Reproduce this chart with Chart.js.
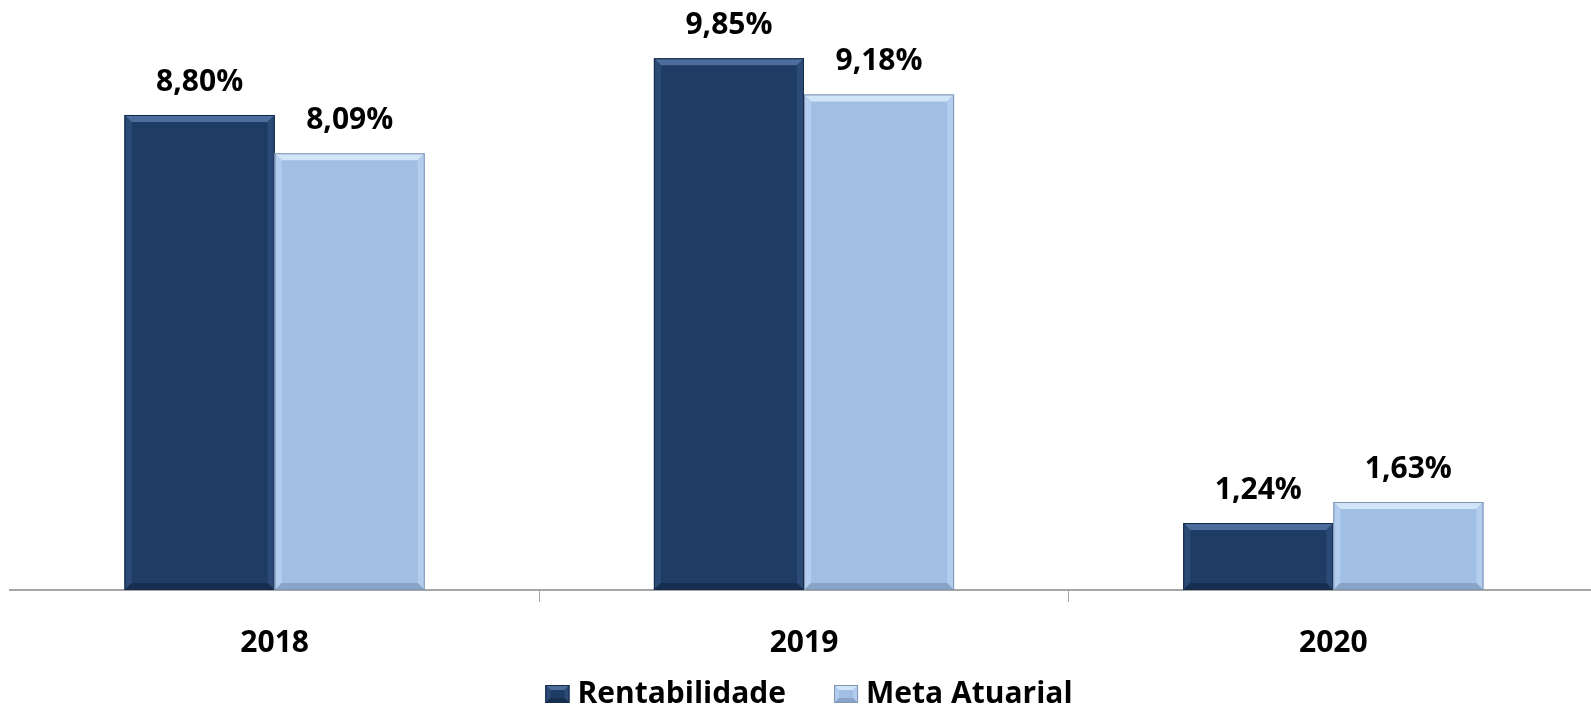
<!DOCTYPE html>
<html lang="pt">
<head>
  <meta charset="UTF-8" />
  <title>Rentabilidade x Meta Atuarial</title>
  <script src="https://cdn.jsdelivr.net/npm/chart.js"></script>
  <style>
    html, body {
      margin: 0;
      padding: 0;
      background: #ffffff;
      overflow: hidden;
    }
    .wrap {
      width: 1598px;
      height: 708px;
      position: relative;
    }
  </style>
</head>
<body>
  <div class="wrap">
    <canvas id="retChart"></canvas>
  </div>

  <script>
    // data
    const years = ['2018', '2019', '2020'];
    const rentabilidade = [8.80, 9.85, 1.24];
    const metaAtuarial = [8.09, 9.18, 1.63];

    const FONT = "'Open Sans', 'Noto Sans', sans-serif";

    const palette = {
      dark:  { fill: '#1f3c64', top: '#4d6e9c', side: '#2b4a76', bottom: '#162e4f', edge: '#152a48' },
      light: { fill: '#a1bee3', top: '#d2e4f8', side: '#b3cdef', bottom: '#88a4c8', edge: '#8096b3' }
    };

    // draws one bevelled rectangle
    function bevelRect(c, l, t, r, b, col, bv) {
      bv = Math.min(bv, (b - t) / 2, (r - l) / 2);
      c.fillStyle = col.fill;
      c.fillRect(l, t, r - l, b - t);
      // top
      c.fillStyle = col.top;
      c.beginPath();
      c.moveTo(l, t); c.lineTo(r, t); c.lineTo(r - bv, t + bv); c.lineTo(l + bv, t + bv);
      c.closePath(); c.fill();
      // left + right
      c.fillStyle = col.side;
      c.beginPath();
      c.moveTo(l, t); c.lineTo(l + bv, t + bv); c.lineTo(l + bv, b - bv); c.lineTo(l, b);
      c.closePath(); c.fill();
      c.beginPath();
      c.moveTo(r, t); c.lineTo(r - bv, t + bv); c.lineTo(r - bv, b - bv); c.lineTo(r, b);
      c.closePath(); c.fill();
      // bottom
      c.fillStyle = col.bottom;
      c.beginPath();
      c.moveTo(l, b); c.lineTo(l + bv, b - bv); c.lineTo(r - bv, b - bv); c.lineTo(r, b);
      c.closePath(); c.fill();
      c.strokeStyle = col.edge;
      c.lineWidth = 1;
      c.strokeRect(l + 0.5, t + 0.5, r - l - 1, b - t - 1);
    }

    // bevel the bars after chart.js has placed them
    const bevelBars = {
      id: 'bevelBars',
      afterDatasetsDraw(chart) {
        const c = chart.ctx;
        c.save();
        chart.data.datasets.forEach((ds, i) => {
          const col = i === 0 ? palette.dark : palette.light;
          chart.getDatasetMeta(i).data.forEach(bar => {
            const p = bar.getProps(['x', 'y', 'base', 'width'], true);
            bevelRect(c, p.x - p.width / 2, p.y, p.x + p.width / 2, p.base, col, 7);
          });
        });
        c.restore();
      }
    };

    const valueLabels = {
      id: 'valueLabels',
      afterDatasetsDraw(chart) {
        const c = chart.ctx;
        c.save();
        c.font = `bold 30px ${FONT}`;
        c.fillStyle = '#000000';
        c.textAlign = 'center';
        c.textBaseline = 'middle';
        chart.data.datasets.forEach((ds, i) => {
          chart.getDatasetMeta(i).data.forEach((bar, j) => {
            const txt = ds.data[j].toFixed(2).replace('.', ',') + '%';
            c.fillText(txt, bar.x, bar.y - 33);
          });
        });
        c.restore();
      }
    };

    // legend drawn by hand in the space kept free by layout.padding.bottom
    const bottomLegend = {
      id: 'bottomLegend',
      afterDraw(chart) {
        const c = chart.ctx;
        c.save();
        c.font = `bold 30px ${FONT}`;
        c.textBaseline = 'middle';
        c.textAlign = 'left';
        const box = 24, gapText = 8, gapItem = 48;
        const items = chart.data.datasets.map((ds, i) => ({
          text: ds.label,
          col: i === 0 ? palette.dark : palette.light,
          w: c.measureText(ds.label).width
        }));
        let total = 0;
        items.forEach((it, i) => { total += box + gapText + it.w + (i ? gapItem : 0); });
        let x = chart.width / 2 + 10 - total / 2;
        const y = chart.height - 14;
        items.forEach(it => {
          bevelRect(c, x, y - 9, x + box, y + 9, it.col, 5);
          x += box + gapText;
          c.fillStyle = '#000000';
          c.fillText(it.text, x, y);
          x += it.w + gapItem;
        });
        c.restore();
      }
    };

    const ctx = document.getElementById('retChart').getContext('2d');
    new Chart(ctx, {
      type: 'bar',
      data: {
        labels: years,
        datasets: [
          { label: 'Rentabilidade', data: rentabilidade, backgroundColor: palette.dark.fill },
          { label: 'Meta Atuarial', data: metaAtuarial, backgroundColor: palette.light.fill }
        ]
      },
      options: {
        responsive: true,
        maintainAspectRatio: false,
        animation: false,
        layout: { padding: { left: 10, right: 0, top: 0, bottom: 24 } },
        datasets: {
          bar: { categoryPercentage: 0.567, barPercentage: 1.0 }
        },
        plugins: {
          tooltip: { enabled: false },
          legend: { display: false }
        },
        scales: {
          x: {
            grid: {
              offset: true,
              drawOnChartArea: false,
              drawTicks: true,
              tickLength: 12,
              color: c => c.index === 0 ? 'rgba(0,0,0,0)' : '#a6a6a6'
            },
            border: { display: true, color: '#a6a6a6', width: 2 },
            ticks: {
              font: { family: FONT, size: 30, weight: 'bold' },
              color: '#000000',
              padding: 23
            }
          },
          y: {
            display: false,
            min: 0,
            max: 10.93
          }
        }
      },
      plugins: [bevelBars, valueLabels, bottomLegend]
    });
  </script>
</body>
</html>
